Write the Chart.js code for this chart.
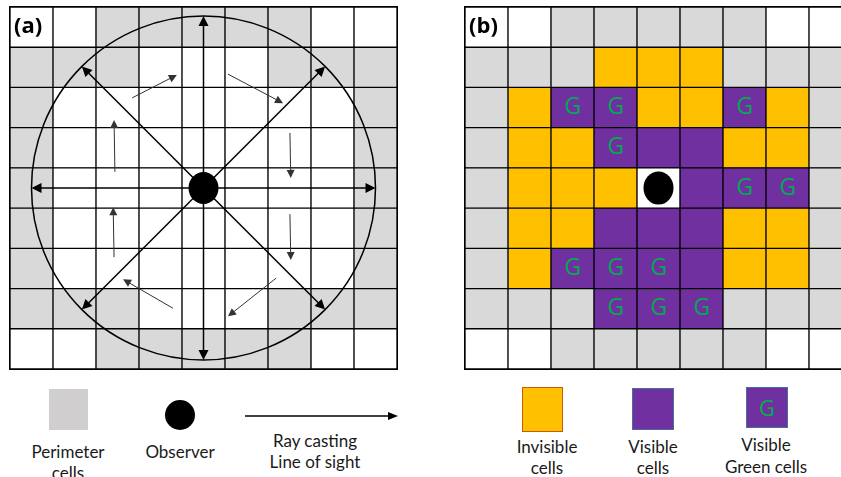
<!DOCTYPE html>
<html>
<head>
<meta charset="utf-8">
<script src="https://cdn.jsdelivr.net/npm/chart.js@4"></script>
<style>
  html, body { margin: 0; padding: 0; background: #fff; overflow: hidden; }
  body { width: 841px; height: 477px; position: relative; }
  canvas { position: absolute; }
  #chartA { left: 9px; top: 6px; }
  #chartB { left: 464px; top: 6px; }
  .sw { position: absolute; box-sizing: border-box; }
  .lbl { position: absolute; text-align: center; font-family: Lato, "Open Sans", sans-serif; font-size: 17px; line-height: 21px; color: #1a1a1a; }
</style>
</head>
<body>
<canvas id="chartA" width="389" height="364"></canvas>
<canvas id="chartB" width="389" height="364"></canvas>

<!-- legend (a) -->
<div class="sw" style="left:49px;top:389px;width:39px;height:41px;background:#D0CECE"></div>
<div class="lbl" style="left:18px;top:441px;width:100px">Perimeter<br>cells</div>
<div class="sw" style="left:165px;top:400px;width:30px;height:30px;border-radius:50%;background:#000"></div>
<div class="lbl" style="left:130px;top:441px;width:100px">Observer</div>
<svg style="position:absolute;left:240px;top:408px" width="162" height="16">
  <line x1="5" y1="8" x2="150" y2="8" stroke="#000" stroke-width="1.5"/>
  <polygon points="158,8 148,4 148,12" fill="#000"/>
</svg>
<div class="lbl" style="left:255px;top:430px;width:120px">Ray casting<br>Line of sight</div>

<!-- legend (b) -->
<div class="sw" style="left:522px;top:387px;width:41px;height:45px;background:#FFC000;border:1.5px solid #C55A11"></div>
<div class="lbl" style="left:497px;top:436px;width:100px">Invisible<br>cells</div>
<div class="sw" style="left:632px;top:388px;width:42px;height:42px;background:#7030A0;border:1.5px solid #41719C"></div>
<div class="lbl" style="left:603px;top:436px;width:100px">Visible<br>cells</div>
<div class="sw" style="left:746px;top:387px;width:42px;height:41px;background:#7030A0;border:1.5px solid #41719C;color:#00B050;font-family:'Open Sans',sans-serif;font-size:22px;line-height:38px;text-align:center">G</div>
<div class="lbl" style="left:706px;top:434px;width:120px;line-height:22px">Visible<br>Green cells</div>

<script>
// grid cells, top row first: W white, P perimeter, I invisible, V visible, G visible green, O observer
const columns = ['c1', 'c2', 'c3', 'c4', 'c5', 'c6', 'c7', 'c8', 'c9'];
const gridA = [
  'WWPPPPPWW',
  'PPPWWWPPP',
  'PWWWWWWWP',
  'PWWWWWWWP',
  'PWWWOWWWP',
  'PWWWWWWWP',
  'PWWWWWWWP',
  'PPPWWWPPP',
  'WWPPPPPWW'
];
const gridB = [
  'WWPPPPPWW',
  'PPPIIIPPP',
  'PIGGIIGIP',
  'PIIGVVIIP',
  'PIIIOVGGP',
  'PIIVVVIIP',
  'PIGGGVIIP',
  'PPPGGGPPP',
  'WWPPPPPWW'
];
const cellColors = { W: '#FFFFFF', P: '#D9D9D9', I: '#FFC000', V: '#7030A0', G: '#7030A0', O: '#FFFFFF' };

// ray directions (degrees) and the thin rotation arrows, in grid units [col, row] from top-left
const rayAngles = [0, 45, 90, 135, 180, 225, 270, 315];
const sweepArrows = [
  [[2.84, 2.26], [3.88, 1.69]],
  [[5.07, 1.67], [6.35, 2.39]],
  [[6.51, 3.13], [6.53, 4.25]],
  [[6.51, 5.15], [6.53, 6.29]],
  [[6.19, 6.74], [5.07, 7.69]],
  [[3.79, 7.49], [2.63, 6.77]],
  [[2.42, 6.22], [2.40, 4.98]],
  [[2.44, 4.10], [2.42, 2.81]]
];

function makeSets(grid) {
  return grid.slice().reverse().map((row, i) => ({
    label: 'row' + i,
    data: columns.map(() => 1),
    backgroundColor: row.split('').map(c => cellColors[c]),
    borderColor: '#000',
    borderWidth: 1,
    borderSkipped: false,
    barPercentage: 1,
    categoryPercentage: 1
  }));
}

function findCell(grid, code) {
  for (let r = 0; r < grid.length; r++) {
    const c = grid[r].indexOf(code);
    if (c >= 0) return [c, r];
  }
}

function arrow(ctx, x1, y1, x2, y2, lw, head, color) {
  const a = Math.atan2(y2 - y1, x2 - x1);
  ctx.strokeStyle = color;
  ctx.fillStyle = color;
  ctx.lineWidth = lw;
  ctx.beginPath();
  ctx.moveTo(x1, y1);
  ctx.lineTo(x2 - Math.cos(a) * head * 0.8, y2 - Math.sin(a) * head * 0.8);
  ctx.stroke();
  ctx.beginPath();
  ctx.moveTo(x2, y2);
  ctx.lineTo(x2 - Math.cos(a) * head + Math.sin(a) * head * 0.5, y2 - Math.sin(a) * head - Math.cos(a) * head * 0.5);
  ctx.lineTo(x2 - Math.cos(a) * head - Math.sin(a) * head * 0.5, y2 - Math.sin(a) * head + Math.cos(a) * head * 0.5);
  ctx.closePath();
  ctx.fill();
}

function helpers(chart) {
  const { x, y } = chart.scales;
  return {
    gx: u => x.getPixelForValue(u - 0.5),
    gy: r => y.getPixelForValue(9 - r)
  };
}

// outer frame so the edge lines are as thick as the inner ones
function frame(chart) {
  const { ctx, chartArea: a } = chart;
  ctx.save();
  ctx.strokeStyle = '#000';
  ctx.lineWidth = 1;
  ctx.strokeRect(a.left - 0.5, a.top - 0.5, a.right - a.left + 1, a.bottom - a.top + 1);
  ctx.restore();
}

const panelA = {
  id: 'panelA',
  afterDatasetsDraw(chart) {
    frame(chart);
    const ctx = chart.ctx;
    const { gx, gy } = helpers(chart);
    const obs = findCell(gridA, 'O');
    const cx = gx(obs[0] + 0.5), cy = gy(obs[1] + 0.5);
    const R = 4 * (gx(1) - gx(0));
    ctx.save();
    ctx.strokeStyle = '#000';
    ctx.lineWidth = 1.5;
    ctx.beginPath();
    ctx.arc(cx, cy, R, 0, Math.PI * 2);
    ctx.stroke();
    rayAngles.forEach(d => {
      const a = d * Math.PI / 180;
      arrow(ctx, cx, cy, cx + Math.cos(a) * R, cy - Math.sin(a) * R, 1.5, 10, '#000');
    });
    sweepArrows.forEach(([p, q]) => {
      arrow(ctx, gx(p[0]), gy(p[1]), gx(q[0]), gy(q[1]), 1, 8, '#333');
    });
    ctx.fillStyle = '#000';
    ctx.beginPath();
    ctx.ellipse(cx, cy, 15, 16, 0, 0, Math.PI * 2);
    ctx.fill();
    ctx.font = 'bold 22px "Open Sans", sans-serif';
    ctx.textBaseline = 'middle';
    ctx.textAlign = 'left';
    ctx.fillText('(a)', gx(0) + 4, gy(0.5));
    ctx.restore();
  }
};

const panelB = {
  id: 'panelB',
  afterDatasetsDraw(chart) {
    frame(chart);
    const ctx = chart.ctx;
    const { gx, gy } = helpers(chart);
    ctx.save();
    ctx.font = '23px "Open Sans", sans-serif';
    ctx.textAlign = 'center';
    ctx.textBaseline = 'middle';
    ctx.fillStyle = '#00B050';
    gridB.forEach((row, r) => row.split('').forEach((c, i) => {
      if (c === 'G') ctx.fillText('G', gx(i + 0.5), gy(r + 0.5));
    }));
    const obs = findCell(gridB, 'O');
    ctx.fillStyle = '#000';
    ctx.beginPath();
    ctx.ellipse(gx(obs[0] + 0.5), gy(obs[1] + 0.5), 15, 16.5, 0, 0, Math.PI * 2);
    ctx.fill();
    ctx.font = 'bold 22px "Open Sans", sans-serif';
    ctx.textAlign = 'left';
    ctx.fillText('(b)', gx(0) + 4, gy(0.5));
    ctx.restore();
  }
};

function makeChart(id, grid, plugin) {
  return new Chart(document.getElementById(id), {
    type: 'bar',
    data: { labels: columns, datasets: makeSets(grid) },
    options: {
      responsive: false,
      animation: false,
      events: [],
      layout: { padding: 1 },
      plugins: { legend: { display: false }, tooltip: { enabled: false } },
      scales: {
        x: { display: false, stacked: true },
        y: { display: false, stacked: true, min: 0, max: 9 }
      }
    },
    plugins: [plugin]
  });
}

makeChart('chartA', gridA, panelA);
makeChart('chartB', gridB, panelB);
</script>
</body>
</html>
